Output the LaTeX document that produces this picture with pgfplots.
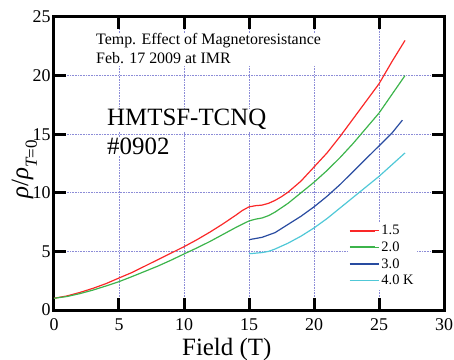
\documentclass[border=0pt]{standalone}
\usepackage{fontspec}
\setmainfont{Liberation Serif}
\usepackage{pgfplots}
\pgfplotsset{compat=1.18}
\definecolor{cred}{RGB}{250,40,40}
\definecolor{cgreen}{RGB}{60,180,75}
\definecolor{cblue}{RGB}{40,75,160}
\definecolor{ccyan}{RGB}{80,200,215}
\definecolor{cgrid}{RGB}{140,140,215}
\begin{document}
\begin{tikzpicture}
\begin{axis}[
  scale only axis, width=390bp, height=293bp,
  xmin=0, xmax=30, ymin=0, ymax=25,
  xtick={0,5,...,30}, ytick={0,5,...,25},
  axis line style={line width=3bp},
  major tick style={line width=3bp, black},
  major tick length=12bp,
  tick align=inside,
  xtick pos=both, ytick pos=both,
  grid=major,
  major grid style={cgrid, line width=0.6bp, dash pattern=on 0.8bp off 0.8bp},
  /pgf/number format/assume math mode=true,
  ticklabel style={font=\rmfamily\fontsize{18}{18}\selectfont},
  xticklabel style={yshift=-5bp},
  xlabel={Field (T)},
  xlabel style={font=\rmfamily\fontsize{25}{25}\selectfont, at={(axis description cs:0.443,0)}, anchor=base, yshift=-45bp},
  ylabel={{\itshape ρ}/{\itshape ρ}\raisebox{-0.35em}{\fontsize{17}{17}\selectfont\itshape T\upshape =0}},
  ylabel style={font=\rmfamily\fontsize{25}{25}\selectfont, at={(axis description cs:-0.076,0.48)}, anchor=center},
  legend style={draw=none, fill=white, at={(axis cs:22.6,7.5)}, anchor=north west,
    font=\rmfamily\fontsize{14.5}{16.7}\selectfont, inner sep=1bp, row sep=1.5bp},
  legend cell align=left,
  legend image code/.code={\draw[#1, line width=1.8bp] (0bp,0bp) -- (25bp,0bp); \path (0bp,0bp) -- (29bp,0bp);},
  every axis plot/.append style={line width=1.2bp},
  clip=false,
]
\addplot[cred] coordinates {(0,1.0)(1,1.2)(2,1.5)(3,1.85)(4,2.25)(5,2.73)(6,3.2)(7,3.75)(8,4.3)(9,4.85)(10,5.4)(11,6.0)(12,6.65)(13,7.35)(14,8.1)(14.5,8.5)(15,8.8)(15.5,8.9)(16,8.95)(16.5,9.1)(17,9.35)(17.5,9.67)(18,10.05)(19,11.0)(20,12.2)(21,13.4)(22,14.8)(23,16.3)(24,17.8)(25,19.3)(26,21.2)(27,23.0)};
\addlegendentry{1.5}
\addplot[cgreen] coordinates {(0,1.0)(1,1.15)(2,1.4)(3,1.7)(4,2.05)(5,2.42)(6,2.85)(7,3.3)(8,3.75)(9,4.25)(10,4.78)(11,5.3)(12,5.85)(13,6.45)(14,7.05)(15,7.6)(15.5,7.75)(16,7.85)(16.5,8.05)(17,8.35)(18,9.1)(19,10.0)(20,10.9)(21,11.9)(22,13.0)(23,14.2)(24,15.5)(25,16.8)(26,18.4)(27,20.0)};
\addlegendentry{2.0}
\addplot[cblue] coordinates {(15,6.0)(15.5,6.1)(16,6.2)(16.5,6.4)(17,6.6)(18,7.3)(19,8.0)(20,8.8)(21,9.7)(22,10.7)(23,11.8)(24,12.9)(25,14.0)(26,15.1)(26.8,16.2)};
\addlegendentry{3.0}
\addplot[ccyan] coordinates {(15,4.8)(15.5,4.85)(16,4.9)(16.5,5.0)(17,5.2)(18,5.7)(19,6.3)(20,7.0)(21,7.8)(22,8.7)(23,9.6)(24,10.5)(25,11.4)(26,12.4)(27,13.4)};
\addlegendentry{4.0 K}
\node[anchor=base west, fill=white, inner sep=1bp, align=left, font=\rmfamily\fontsize{16}{19}\selectfont] at (axis cs:3.15,21.0) {Temp. Effect of Magnetoresistance\\Feb. 17 2009 at IMR};
\node[anchor=base west, fill=white, inner sep=1bp, font=\rmfamily\fontsize{25}{28}\selectfont] at (axis cs:4.0,15.7) {HMTSF-TCNQ};
\node[anchor=base west, fill=white, inner sep=1bp, font=\rmfamily\fontsize{25}{28}\selectfont] at (axis cs:4.0,13.3) {\#0902};
\end{axis}
\pgfresetboundingbox
\path[use as bounding box] ([shift={(-54bp,-50bp)}]current axis.south west) rectangle ([shift={(10bp,17bp)}]current axis.north east);
\end{tikzpicture}
\end{document}
